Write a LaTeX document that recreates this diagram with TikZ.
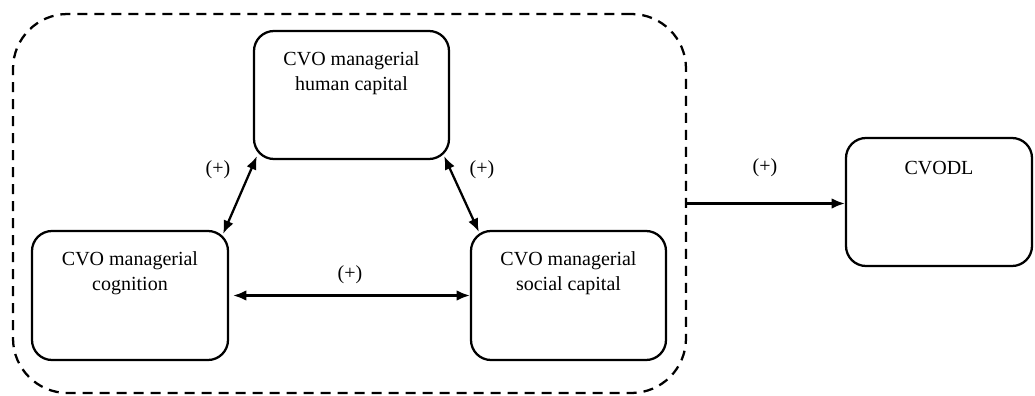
\documentclass[tikz,border=0pt]{standalone}
\usepackage{fontspec}
\setmainfont{Liberation Serif}
\usetikzlibrary{arrows.meta,calc}
\begin{document}
\begin{tikzpicture}[x=0.75pt,y=-0.75pt,
  every node/.style={font=\fontsize{15}{18.75}\selectfont},
  box/.style={draw,line width=1.7pt,rounded corners=15pt,inner sep=0pt},
  frame/.style={draw,line width=1.7pt,dash pattern=on 7.5pt off 5.25pt,rounded corners=41pt,inner sep=0pt},
  lbl/.style={align=center,inner sep=0pt,anchor=north},
  sign/.style={inner sep=0pt},
  link/.style={line width=1.7pt,{Latex[length=10pt,width=8pt]}-{Latex[length=10pt,width=8pt]}},
  flow/.style={line width=1.7pt,-{Latex[length=10pt,width=8pt]}}]
\useasboundingbox (0,0) rectangle (1035,396);

% grouping frame around the three CVO constructs
\node[frame,minimum width=504.75pt,minimum height=284.25pt] (grp) at (349.5,203.5) {};

% construct boxes
\node[box,minimum width=146.25pt,minimum height=96pt] (hum) at (351.5,95) {};
\node[box,minimum width=147pt,minimum height=96.75pt] (cog) at (130,295.5) {};
\node[box,minimum width=146.25pt,minimum height=96.75pt] (soc) at (568.5,295.5) {};
\node[box,minimum width=139.5pt,minimum height=96pt] (dl) at (939,202) {};

% box titles
\node[lbl] (humt) at ($(hum.north)+(0,21)$) {CVO managerial\\human capital};
\node[lbl] (cogt) at ($(cog.north)+(0,21)$) {CVO managerial\\cognition};
\node[lbl] (soct) at ($(soc.north)+(0,21)$) {CVO managerial\\social capital};
\node[lbl] (dlt) at ($(dl.north)+(0,24)$) {CVODL};

% mutual relations inside the frame
\draw[link] ($(cog.north east)+(-6,4)$) -- ($(hum.south west)+(4,-4)$);
\draw[link] ($(hum.south east)+(-6,-4)$) -- ($(soc.north west)+(9,2)$);
\draw[link] ($(cog.east)+(4,0)$) -- (soc.west);

% effect on CVODL
\draw[flow] (grp.east) -- (grp.east -| dl.west);

% signs
\node[sign] (s1) at (218,170) {(+)};
\node[sign] (s2) at (482,170) {(+)};
\node[sign] (s3) at (350,275) {(+)};
\node[sign] (s4) at (765,168) {(+)};
\end{tikzpicture}
\end{document}
